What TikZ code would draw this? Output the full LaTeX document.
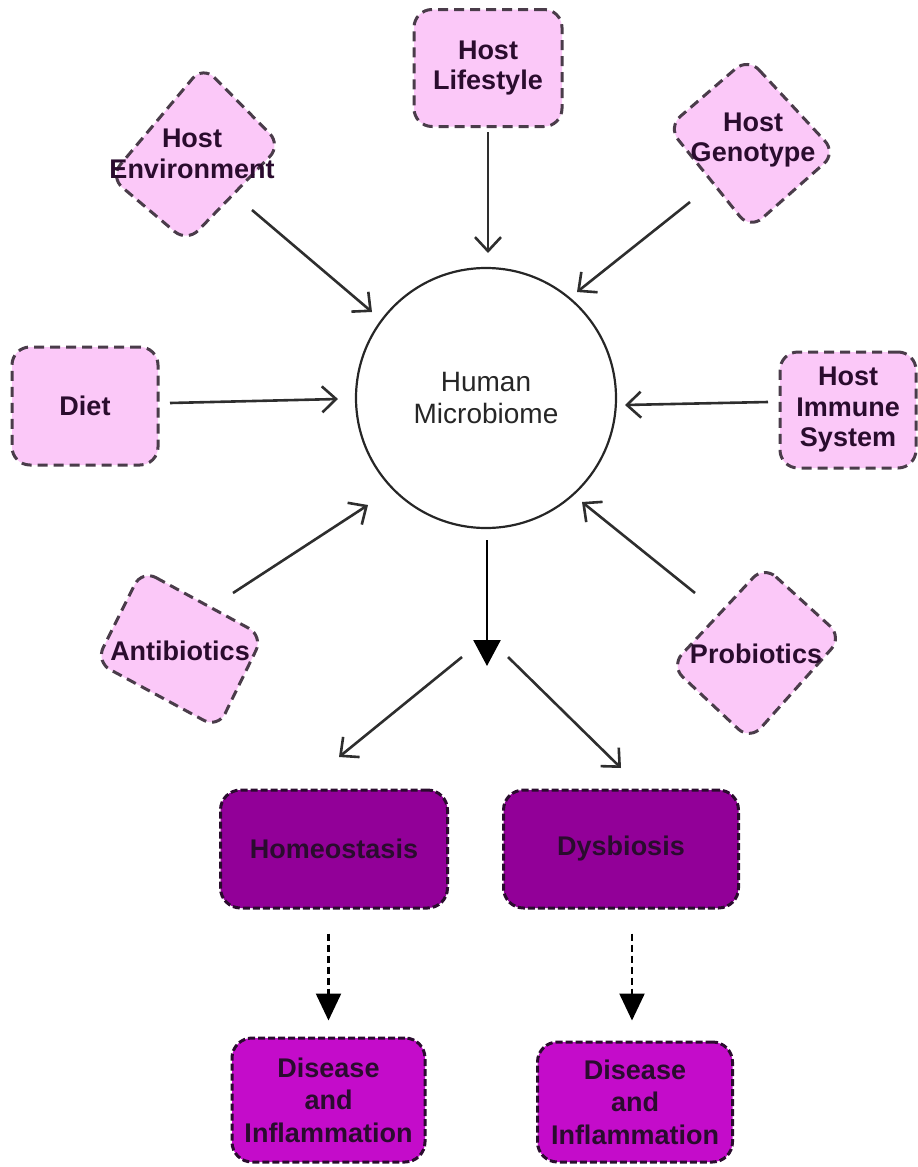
\documentclass[tikz,border=0pt]{standalone}
\usepackage{fontspec}
\setmainfont{Liberation Sans}
\usetikzlibrary{arrows.meta,calc}
\definecolor{pinkfill}{HTML}{FBC8F8}
\definecolor{edgegray}{HTML}{4A3C4A}
\definecolor{purplefill}{HTML}{920098}
\definecolor{magentafill}{HTML}{C40CCA}
\definecolor{txtdark}{HTML}{2A0C2E}
\definecolor{arrgray}{HTML}{2E2E2E}
\begin{document}
\begin{tikzpicture}[x=1pt,y=-1pt,
  pinkbox/.style={draw=edgegray, fill=pinkfill, line width=3pt, dash pattern=on 10pt off 6pt, rounded corners=18pt, inner sep=0pt},
  pinkshape/.style={draw=edgegray, fill=pinkfill, line width=3pt, dash pattern=on 10pt off 6pt, rounded corners=16pt},
  darkbox/.style={draw=txtdark, line width=3pt, dash pattern=on 7pt off 3pt, rounded corners=20pt, inner sep=0pt},
  lbl/.style={font=\fontsize{27}{30.5}\selectfont\bfseries, text=txtdark, align=center},
  arr/.style={draw=arrgray, line width=2.6pt, -{Straight Barb[length=14pt,width=26pt,line width=2.6pt]}},
  farr/.style={draw=black, line width=2.6pt, -{Triangle[length=26pt,width=27pt]}},
  darr/.style={draw=black, line width=2.4pt, dash pattern=on 7pt off 4pt, -{Triangle[length=27pt,width=25pt]}}
]
\useasboundingbox (0,0) rectangle (918,1167);

% diamond-like shapes
\draw[pinkshape] (203,66) -- (281,145) -- (187,242) -- (110,177) -- cycle;
\draw[pinkshape] (748,58) -- (836,153) -- (750,229) -- (668,127) -- cycle;
\draw[pinkshape] (142,570) -- (263,636) -- (218,728) -- (96,662) -- cycle;
\draw[pinkshape] (764,566) -- (842,637) -- (750,740) -- (671,666) -- cycle;

% nodes
\node[pinkbox, lbl, minimum width=148pt, minimum height=117pt] (life) at (488,68) {Host\\Lifestyle};
\node[lbl] (env) at (192,154) {Host\\Environment};
\node[lbl] (geno) at (753,140) {Host\\Genotype};
\node[pinkbox, lbl, minimum width=146pt, minimum height=118pt] (diet) at (85,406) {Diet};
\node[pinkbox, lbl, minimum width=136pt, minimum height=116pt] (imm) at (848,410) {Host\\Immune\\System};
\node[lbl] (anti) at (180,651) {Antibiotics};
\node[lbl] (probio) at (756,654) {Probiotics};
\node[circle, draw=black!85, line width=2.2pt, minimum size=260pt, inner sep=0pt, align=center,
      font=\fontsize{28}{32}\selectfont, text=black!85] (hm) at (486,398) {Human\\Microbiome};

\node[darkbox, lbl, fill=purplefill, minimum width=227pt, minimum height=118pt] (homeo) at (334,849) {Homeostasis};
\node[darkbox, lbl, fill=purplefill, minimum width=235pt, minimum height=118pt] (dys) at (621,849) {Dysbiosis};
\node[darkbox, lbl, fill=magentafill, minimum width=193pt, minimum height=124pt, font=\fontsize{27}{32.5}\selectfont\bfseries] (dis1) at (328.5,1100) {Disease\\and\\Inflammation};
\node[darkbox, lbl, fill=magentafill, minimum width=195pt, minimum height=120pt, font=\fontsize{27}{32.5}\selectfont\bfseries] (dis2) at (635,1102) {Disease\\and\\Inflammation};

\coordinate (split) at (487,666);

% connectors into the microbiome
\draw[arr] ($(life.center)+(0,64)$) -- ($(hm.center)+(2,-145)$);
\draw[arr] ($(env.center)+(60,56)$) -- ($(hm.center)+(-114,-86)$);
\draw[arr] ($(geno.center)+(-63,62)$) -- ($(hm.center)+(91,-106)$);
\draw[arr] ($(diet.center)+(85,-3)$) -- ($(hm.center)+(-148,1)$);
\draw[arr] ($(imm.center)+(-80,-8)$) -- ($(hm.center)+(139,7)$);
\draw[arr] ($(anti.center)+(53,-58)$) -- ($(hm.center)+(-118,107)$);
\draw[arr] ($(probio.center)+(-61,-61)$) -- ($(hm.center)+(96,104)$);

% outcome
\draw[farr] ($(hm.center)+(1,142)$) -- (split);
\draw[arr] ($(split)+(-25,-9)$) -- ($(homeo.center)+(5,-92)$);
\draw[arr] ($(split)+(21,-9)$) -- ($(dys.center)+(0,-81)$);

\draw[darr] ($(homeo.south -| dis1.north)+(0,24)$) -- ($(dis1.north)+(0,-16)$);
\draw[darr] ($(dys.south -| dis2.north)+(-3,24)$) -- ($(dis2.north)+(-3,-20)$);
\end{tikzpicture}
\end{document}
